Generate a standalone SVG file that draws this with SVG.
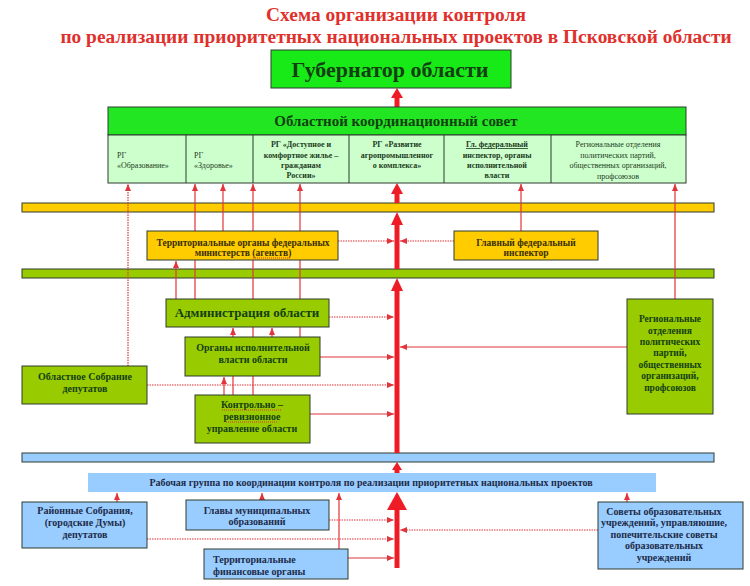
<svg xmlns="http://www.w3.org/2000/svg" width="750" height="586" viewBox="0 0 750 586">
<style>
text{font-family:"Liberation Serif","Times New Roman",serif;}
.title{fill:#e0302c;font-weight:bold;font-size:19.4px;text-anchor:middle;}
.box{stroke:#2e3a2e;stroke-width:1;}
.bright{fill:#22e622;}
.light{fill:#ccffcc;}
.olive{fill:#99cc00;}
.yel{fill:#ffcc00;}
.blue{fill:#99ccff;}
.tg{fill:#133f13;font-weight:bold;text-anchor:middle;}
.ty{fill:#3a2e00;font-weight:bold;text-anchor:middle;font-size:9.5px;}
.tb{fill:#1c2b48;font-weight:bold;text-anchor:middle;font-size:10px;}
.tbl{fill:#1c2b48;font-weight:bold;text-anchor:start;font-size:10px;}
.cell{fill:#1c3a1c;font-size:8px;}
.ln{stroke:#e2343a;stroke-width:1.2;fill:none;}
.dot{stroke:#e2343a;stroke-width:1.2;fill:none;stroke-dasharray:1.5 1;}
.spine{stroke:#ee1c24;stroke-width:5;}
.head{fill:#ee1c24;}
.wavy{stroke:#e2343a;stroke-width:1;stroke-dasharray:1 1;}
</style>
<defs>
<marker id="ar" markerUnits="userSpaceOnUse" markerWidth="7" markerHeight="6" refX="7" refY="3" orient="auto">
<path d="M0,0 L7,3 L0,6 z" fill="#e2343a"/>
</marker>
</defs>
<rect width="750" height="586" fill="#ffffff"/>
<text class="title" x="396" y="21">Схема организации контроля</text>
<text class="title" x="396" y="43">по реализации приоритетных национальных проектов в Псковской области</text>

<g id="bars">
<rect class="box yel" x="22" y="203" width="692" height="9"/>
<rect class="box olive" x="22" y="269" width="692" height="9"/>
<rect class="box blue" x="22" y="453" width="692" height="9"/>
</g>

<g id="connectors">
<line class="dot" x1="128" y1="366" x2="128" y2="184" marker-end="url(#ar)"/>
<line class="ln" x1="195" y1="299" x2="195" y2="184" marker-end="url(#ar)"/>
<line class="ln" x1="223" y1="231" x2="223" y2="184" marker-end="url(#ar)"/>
<line class="ln" x1="253" y1="395" x2="253" y2="184" marker-end="url(#ar)"/>
<line class="ln" x1="300" y1="337" x2="300" y2="184" marker-end="url(#ar)"/>
<line class="ln" x1="176" y1="299" x2="176" y2="261" marker-end="url(#ar)"/>
<line class="ln" x1="521" y1="231" x2="521" y2="184" marker-end="url(#ar)"/>
<line class="ln" x1="675" y1="299" x2="675" y2="184" marker-end="url(#ar)"/>
<line class="ln" x1="224" y1="395" x2="224" y2="377" marker-end="url(#ar)"/>
<line class="ln" x1="233" y1="395" x2="233" y2="328" marker-end="url(#ar)"/>
<line class="ln" x1="272" y1="337" x2="272" y2="328" marker-end="url(#ar)"/>
<line class="ln" x1="117" y1="502" x2="117" y2="493" marker-end="url(#ar)"/>
<line class="ln" x1="262" y1="500" x2="262" y2="493" marker-end="url(#ar)"/>
<line class="ln" x1="339" y1="549" x2="339" y2="493" marker-end="url(#ar)"/>
<line class="ln" x1="627" y1="502" x2="627" y2="493" marker-end="url(#ar)"/>

<line class="dot" x1="338" y1="241" x2="394" y2="241" marker-end="url(#ar)"/>
<line class="dot" x1="454" y1="241" x2="400" y2="241" marker-end="url(#ar)"/>
<line class="dot" x1="329" y1="317" x2="394" y2="317" marker-end="url(#ar)"/>
<line class="ln" x1="627" y1="347" x2="400" y2="347" marker-end="url(#ar)"/>
<line class="ln" x1="320" y1="357" x2="394" y2="357" marker-end="url(#ar)"/>
<line class="dot" x1="147" y1="385" x2="394" y2="385" marker-end="url(#ar)"/>
<line class="ln" x1="310" y1="414" x2="394" y2="414" marker-end="url(#ar)"/>
<line class="dot" x1="329" y1="520" x2="394" y2="520" marker-end="url(#ar)"/>
<line class="dot" x1="147" y1="539" x2="394" y2="539" marker-end="url(#ar)"/>
<line class="ln" x1="348" y1="558" x2="394" y2="558" marker-end="url(#ar)"/>
<line class="dot" x1="598" y1="530" x2="400" y2="530" marker-end="url(#ar)"/>

<line class="spine" x1="397" y1="107" x2="397" y2="97"/>
<polygon class="head" points="397,88 391,98 403,98"/>
<line class="spine" x1="397" y1="203" x2="397" y2="193"/>
<polygon class="head" points="397,183 391,194 403,194"/>
<line class="spine" x1="397" y1="269" x2="397" y2="224"/>
<polygon class="head" points="397,212 391,225 403,225"/>
<line class="spine" x1="397" y1="453" x2="397" y2="290"/>
<polygon class="head" points="397,278 391,291 403,291"/>
<line class="spine" x1="397" y1="473" x2="397" y2="469"/>
<polygon class="head" points="397,462 392,470 402,470"/>
<line class="spine" x1="397" y1="568" x2="397" y2="508"/>
<polygon class="head" points="397,492 387,510 407,510"/>
</g>

<g id="governor">
<rect class="box" x="271" y="50" width="240" height="38" fill="#18ea18"/>
<text class="tg" x="390" y="77" font-size="22">Губернатор области</text>
</g>

<g id="council">
<rect class="box bright" x="108" y="107" width="578" height="28"/>
<text class="tg" x="396" y="126" font-size="15">Областной координационный совет</text>
<rect class="box light" x="108" y="135" width="578" height="48"/>
<line class="box" x1="186" y1="135" x2="186" y2="183"/>
<line class="box" x1="253" y1="135" x2="253" y2="183"/>
<line class="box" x1="349" y1="135" x2="349" y2="183"/>
<line class="box" x1="444" y1="135" x2="444" y2="183"/>
<line class="box" x1="551" y1="135" x2="551" y2="183"/>
<text class="cell" x="117" y="158">РГ</text>
<text class="cell" x="117" y="168">«Образование»</text>
<text class="cell" x="194" y="158">РГ</text>
<text class="cell" x="194" y="168">«Здоровье»</text>
<g class="cell" text-anchor="middle" font-weight="bold">
<text x="301" y="147">РГ «Доступное и</text>
<text x="301" y="158">комфортное жилье –</text>
<text x="301" y="168">гражданам</text>
<text x="301" y="178">России»</text>
<text x="397" y="147">РГ «Развитие</text>
<text x="397" y="158">агропромышленног</text>
<text x="397" y="168">о комплекса»</text>
<text x="497" y="147" text-decoration="underline">Гл. федеральный</text>
<text x="497" y="158">инспектор, органы</text>
<text x="497" y="168">исполнительной</text>
<text x="497" y="178">власти</text>
</g>
<g class="cell" text-anchor="middle" fill="#3c4a3c">
<text x="618" y="147">Региональные отделения</text>
<text x="618" y="158">политических партий,</text>
<text x="618" y="168">общественных организаций,</text>
<text x="618" y="179">профсоюзов</text>
</g>
</g>

<g id="terr-fed">
<rect class="box yel" x="147" y="231" width="191" height="29"/>
<text class="ty" x="243" y="246">Территориальные органы федеральных</text>
<text class="ty" x="243" y="256">министерств (агенств)</text>
<line class="wavy" x1="253" y1="258" x2="290" y2="258"/>
</g>

<g id="main-inspector">
<rect class="box yel" x="454" y="231" width="144" height="29"/>
<text class="ty" x="526" y="246">Главный федеральный</text>
<text class="ty" x="526" y="256">инспектор</text>
</g>

<g id="administration">
<rect class="box olive" x="166" y="299" width="163" height="28"/>
<text class="tg" x="247" y="317" font-size="13">Администрация области</text>
</g>

<g id="executive">
<rect class="box olive" x="185" y="337" width="135" height="39"/>
<text class="tg" x="253" y="351" font-size="10">Органы исполнительной</text>
<text class="tg" x="253" y="363" font-size="10">власти области</text>
</g>

<g id="assembly">
<rect class="box olive" x="22" y="366" width="125" height="38"/>
<text class="tg" x="85" y="380" font-size="10">Областное Собрание</text>
<text class="tg" x="85" y="392" font-size="10">депутатов</text>
</g>

<g id="control">
<rect class="box olive" x="195" y="395" width="115" height="48"/>
<text class="tg" x="252" y="408" font-size="10">Контрольно –</text>
<text class="tg" x="252" y="420" font-size="10">ревизионное</text>
<text class="tg" x="252" y="432" font-size="10">управление области</text>
<line class="wavy" x1="222" y1="410" x2="282" y2="410"/>
<line class="wavy" x1="226" y1="422" x2="278" y2="422"/>
</g>

<g id="regional">
<rect class="box olive" x="627" y="299" width="86" height="115"/>
<g class="tg" font-size="9.5">
<text x="670" y="322">Региональные</text>
<text x="670" y="334">отделения</text>
<text x="670" y="345">политических</text>
<text x="670" y="356">партий,</text>
<text x="670" y="368">общественных</text>
<text x="670" y="379">организаций,</text>
<text x="670" y="391">профсоюзов</text>
</g>
</g>

<g id="working-group">
<rect class="blue" x="88" y="473" width="568" height="19"/>
<text class="tb" x="371" y="486" font-size="8.7">Рабочая группа по координации контроля по реализации приоритетных национальных  проектов</text>
</g>

<g id="district">
<rect class="box blue" x="22" y="502" width="125" height="46"/>
<text class="tb" x="85" y="514">Районные Собрания,</text>
<text class="tb" x="85" y="526">(городские Думы)</text>
<text class="tb" x="85" y="538">депутатов</text>
</g>

<g id="heads">
<rect class="box blue" x="186" y="500" width="143" height="30"/>
<text class="tb" x="257" y="514">Главы муниципальных</text>
<text class="tb" x="257" y="525">образований</text>
</g>

<g id="finance">
<rect class="box blue" x="204" y="549" width="144" height="30"/>
<text class="tbl" x="213" y="563">Территориальные</text>
<text class="tbl" x="213" y="575">финансовые органы</text>
</g>

<g id="edu-councils">
<rect class="box blue" x="598" y="502" width="145" height="67"/>
<g class="tb" font-size="9.5">
<text x="664" y="515">Советы образовательных</text>
<text x="664" y="526">учреждений, управляюшие,</text>
<text x="664" y="538">попечительские советы</text>
<text x="664" y="549">образовательных</text>
<text x="664" y="561">учреждений</text>
</g>
</g>
</svg>
